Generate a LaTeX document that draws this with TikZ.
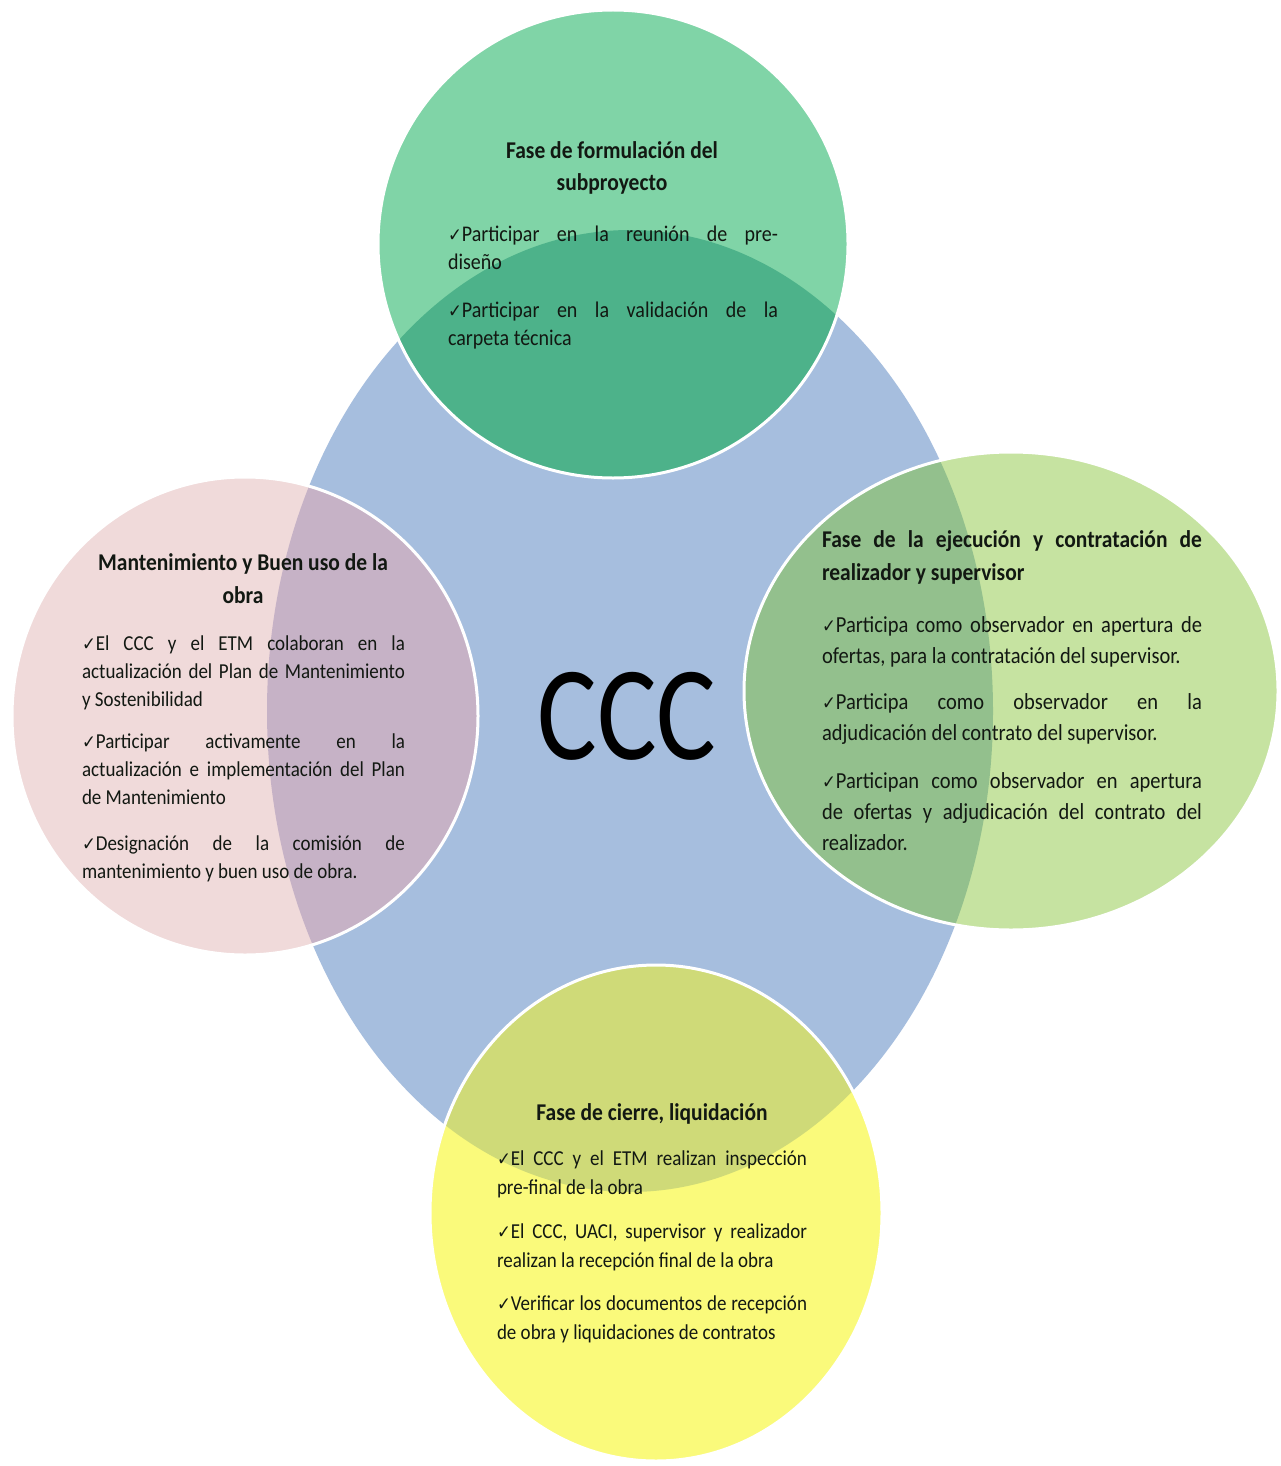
\documentclass[tikz,border=0pt]{standalone}
\usepackage{fontspec}
\setmainfont{Carlito}
\newfontfamily\dejavu{DejaVu Sans}
\usepackage{graphicx}
\definecolor{bluec}{HTML}{A6BEDE}
\definecolor{grnc}{HTML}{80D4A7}
\definecolor{grnov}{HTML}{4DB28A}
\definecolor{lgrc}{HTML}{C6E3A1}
\definecolor{lgrov}{HTML}{93C08D}
\definecolor{pinkc}{HTML}{F0DADA}
\definecolor{pinkov}{HTML}{C6B2C6}
\definecolor{yelc}{HTML}{FAFA7B}
\definecolor{yelov}{HTML}{CFDA78}
\definecolor{txtc}{HTML}{121812}
\newcommand{\ck}{{\dejavu\fontsize{16.5}{16}\selectfont ✓}}
\newcommand{\jl}[2]{\makebox[#1pt][s]{#2}}
\newcommand{\bodybox}[4]{\scalebox{1}[1.12]{\parbox[t]{#1pt}{\fontsize{#2}{#3}\selectfont #4}}}
\newcommand{\ttlbox}[3]{\scalebox{1}[1.12]{\parbox[t]{#1pt}{\centering\fontsize{21.5}{#2}\selectfont\bfseries #3}}}
\tikzset{
  txt/.style={inner sep=0pt, outer sep=0pt, anchor=base west, text=txtc},
  ttl/.style={inner sep=0pt, outer sep=0pt, anchor=base, text=txtc},
  rim/.style={draw=white, line width=3pt},
}
\begin{document}
\begin{tikzpicture}[x=1pt,y=1pt]
\useasboundingbox[fill=white] (0,0) rectangle (1281,-1466);
% central ellipse
\fill[bluec] (630,-711) ellipse [x radius=363, y radius=481];
% top green
\fill[grnc] (613,-244) ellipse [x radius=235, y radius=234];
\begin{scope}
  \clip (630,-711) ellipse [x radius=363, y radius=481];
  \fill[grnov] (613,-244) ellipse [x radius=235, y radius=234];
\end{scope}
\draw[rim] (613,-244) ellipse [x radius=235, y radius=234];
% right light green
\fill[lgrc] (1011,-691) ellipse [x radius=267, y radius=239];
\begin{scope}
  \clip (630,-711) ellipse [x radius=363, y radius=481];
  \fill[lgrov] (1011,-691) ellipse [x radius=267, y radius=239];
\end{scope}
\draw[rim] (1011,-691) ellipse [x radius=267, y radius=239];
% left pink
\fill[pinkc] (245,-716) ellipse [x radius=233, y radius=239];
\begin{scope}
  \clip (630,-711) ellipse [x radius=363, y radius=481];
  \fill[pinkov] (245,-716) ellipse [x radius=233, y radius=239];
\end{scope}
\draw[rim] (245,-716) ellipse [x radius=233, y radius=239];
% bottom yellow
\fill[yelc] (656,-1213) ellipse [x radius=226, y radius=248];
\begin{scope}
  \clip (630,-711) ellipse [x radius=363, y radius=481];
  \fill[yelov] (656,-1213) ellipse [x radius=226, y radius=248];
\end{scope}
\draw[rim] (656,-1213) ellipse [x radius=226, y radius=248];

% centre label
\node[inner sep=0pt, text=black] (ccc) at (627,-716) {\scalebox{1}[1.2]{\fontsize{112}{112}\selectfont CCC}};

% top texts
\node[ttl] (t1) at (612,-159) {\ttlbox{300}{27.7}{Fase de formulación del\\subproyecto}};
\node[txt] (t1a) at (448,-241) {\bodybox{330}{20}{25.4}{\jl{330}{\ck Participar en la reunión de pre-}\\diseño}};
\node[txt] (t1b) at (448,-317) {\bodybox{330}{20}{25.4}{\jl{330}{\ck Participar en la validación de la}\\carpeta técnica}};

% right texts
\node[txt] (t2) at (822,-547) {\scalebox{1}[1.12]{\parbox[t]{380pt}{\fontsize{21.5}{29.5}\selectfont\bfseries\jl{380}{Fase de la ejecución y contratación de}\\realizador y supervisor}}};
\node[txt] (t2a) at (822,-632) {\bodybox{380}{20.5}{28.1}{\jl{380}{\ck Participa como observador en apertura de}\\ofertas, para la contratación del supervisor.}};
\node[txt] (t2b) at (822,-709) {\bodybox{380}{20.5}{28.1}{\jl{380}{\ck Participa como observador en la}\\adjudicación del contrato del supervisor.}};
\node[txt] (t2c) at (822,-788) {\bodybox{380}{20.5}{28.1}{\jl{380}{\ck Participan como observador en apertura}\\\jl{380}{de ofertas y adjudicación del contrato del}\\realizador.}};

% left texts
\node[ttl] (t3) at (243,-570) {\ttlbox{340}{29.5}{Mantenimiento y Buen uso de la\\obra}};
\node[txt] (t3a) at (82,-650) {\bodybox{323}{19}{25.4}{\jl{323}{\ck El CCC y el ETM colaboran en la}\\\jl{323}{actualización del Plan de Mantenimiento}\\y Sostenibilidad}};
\node[txt] (t3b) at (82,-748) {\bodybox{323}{19}{25.4}{\jl{323}{\ck Participar activamente en la}\\\jl{323}{actualización e implementación del Plan}\\de Mantenimiento}};
\node[txt] (t3c) at (82,-850) {\bodybox{323}{19}{25.4}{\jl{323}{\ck Designación de la comisión de}\\mantenimiento y buen uso de obra.}};

% bottom texts
\node[ttl] (t4) at (652,-1120) {\ttlbox{300}{27.7}{Fase de cierre, liquidación}};
\node[txt] (t4a) at (497,-1165) {\bodybox{310}{19}{25.9}{\jl{310}{\ck El CCC y el ETM realizan inspección}\\pre-final de la obra}};
\node[txt] (t4b) at (497,-1238) {\bodybox{310}{19}{25.9}{\jl{310}{\ck El CCC, UACI, supervisor y realizador}\\realizan la recepción final de la obra}};
\node[txt] (t4c) at (497,-1310) {\bodybox{310}{19}{25.9}{\jl{310}{\ck Verificar los documentos de recepción}\\de obra y liquidaciones de contratos}};
\end{tikzpicture}
\end{document}
